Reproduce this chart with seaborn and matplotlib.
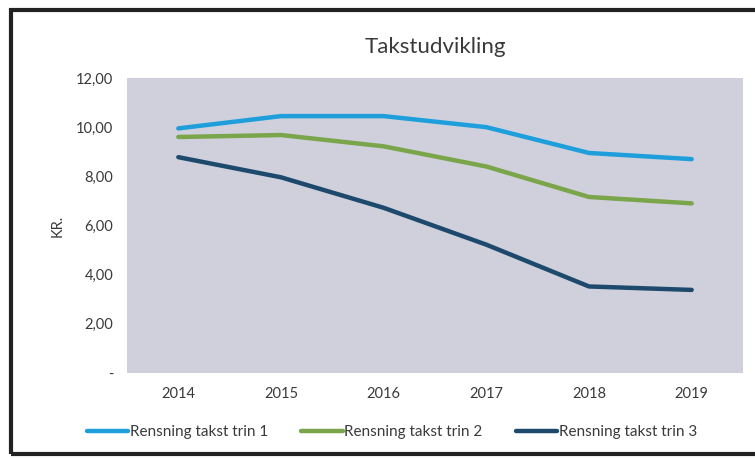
import matplotlib
matplotlib.use('Agg')
import matplotlib.pyplot as plt
import seaborn as sns
import pandas as pd
from matplotlib.patches import Rectangle

# data
years = ['2014', '2015', '2016', '2017', '2018', '2019']
trin1 = [9.95, 10.45, 10.45, 10.0, 8.95, 8.7]
trin2 = [9.6, 9.68, 9.22, 8.4, 7.16, 6.9]
trin3 = [8.78, 7.96, 6.72, 5.22, 3.52, 3.38]
series_names = ['Rensning takst trin 1', 'Rensning takst trin 2', 'Rensning takst trin 3']
yticks = [0, 2, 4, 6, 8, 10, 12]
ytick_labels = ['-', '2,00', '4,00', '6,00', '8,00', '10,00', '12,00']

df = pd.DataFrame({'år': years, series_names[0]: trin1,
                   series_names[1]: trin2, series_names[2]: trin3})
long = df.melt(id_vars='år', var_name='serie', value_name='kr')

sns.set_style('white')
plt.rcParams['font.family'] = ['Lato', 'DejaVu Sans']

fig = plt.figure(figsize=(7.55, 4.59), dpi=100)
ax = fig.add_axes([127 / 755, 86 / 459, 616 / 755, 295 / 459])
ax.set_facecolor('#cfd0dc')

palette = ['#1e9fdc', '#7aa54a', '#1d4a6c']
sns.lineplot(data=long, x='år', y='kr', hue='serie', palette=palette,
             linewidth=3.2, sort=False, ax=ax)

ax.set_xlim(-0.5, 5.5)
ax.set_ylim(0, 12)
ax.set_yticks(yticks)
ax.set_yticklabels(ytick_labels)
ax.tick_params(axis='both', length=0, labelsize=10.5, colors='#3a3a3a')
ax.tick_params(axis='x', pad=10)
ax.tick_params(axis='y', pad=10)
for s in ax.spines.values():
    s.set_visible(False)
ax.set_xlabel('')
ax.set_ylabel('KR.', fontsize=10.5, color='#3a3a3a', labelpad=8)

ax.set_title('Takstudvikling', fontsize=16, color='#3a3a3a', pad=18)

handles, labels = ax.get_legend_handles_labels()
ax.legend(handles, labels, loc='upper center', bbox_to_anchor=(0.43, -0.13),
          ncol=3, frameon=False, fontsize=11, handlelength=2.7,
          handletextpad=0.1, columnspacing=2.2, labelcolor='#3a3a3a')

# outer chart frame
fig.patches.append(Rectangle((11 / 755, 5 / 459), 1.0, 444 / 459,
                             transform=fig.transFigure, fill=False,
                             edgecolor='#222222', linewidth=3))

fig.savefig('out.png', dpi=100)
